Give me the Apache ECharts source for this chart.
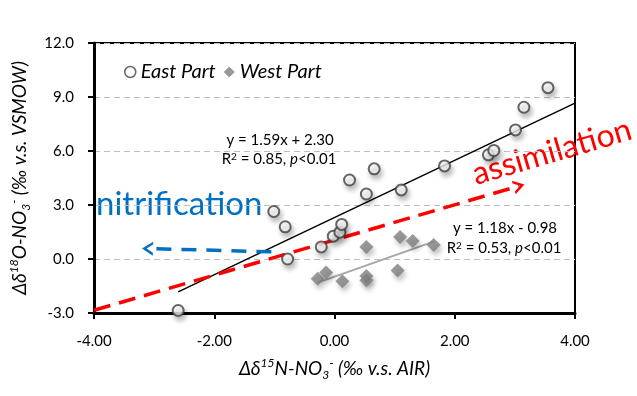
<!DOCTYPE html>
<html>
<head>
<meta charset="utf-8">
<script src="https://cdn.jsdelivr.net/npm/echarts@6/dist/echarts.min.js"></script>
<style>
  html, body { margin: 0; padding: 0; background: #fff; }
  #chart { width: 637px; height: 396px; }
</style>
</head>
<body>
<div id="chart"></div>
<script>
// 数据
var eastPart = [
  [-2.60, -2.86], [-1.01, 2.64], [-0.82, 1.79], [-0.78, 0.00], [-0.22, 0.67],
  [-0.02, 1.27], [0.09, 1.49], [0.12, 1.92], [0.25, 4.39], [0.53, 3.61],
  [0.66, 5.01], [1.11, 3.84], [1.83, 5.17], [2.56, 5.79], [2.65, 6.03],
  [3.01, 7.17], [3.15, 8.43], [3.55, 9.52]
];
var westPart = [
  [-0.28, -1.10], [-0.14, -0.75], [0.13, -1.24], [0.53, -0.95], [0.53, -1.18],
  [0.53, 0.66], [1.05, -0.64], [1.09, 1.22], [1.30, 1.00], [1.65, 0.78]
];
var eastFit = [[-2.60, -1.83], [4.00, 8.66]];
var westFit = [[-0.28, -1.31], [1.66, 0.98]];
var redArrow = [[-4.00, -2.85], [3.07, 4.06]];
var blueArrow = [[-1.05, 0.40], [-3.11, 0.58]];
var xTicks = [-4, -2, 0, 2, 4];
var yTicks = [-3, 0, 3, 6, 9, 12];

var font = 'Lato, "Open Sans", sans-serif';
var chevron = 'path://M0,12 L6,0 L12,12 L9.5,12 L6,5 L2.5,12 Z';

var chart = echarts.init(document.getElementById('chart'));

function arrowSeries(pts, color, dash) {
  return {
    type: 'line',
    data: [],
    silent: true,
    markLine: {
      silent: true,
      animation: false,
      symbol: ['none', chevron],
      symbolSize: [14, 11],
      label: { show: false },
      lineStyle: { color: color, width: 3.5, type: dash, opacity: 1 },
      data: [[{ coord: pts[0] }, { coord: pts[1] }]]
    }
  };
}

var titleRich = {
  i: { fontFamily: font, fontStyle: 'italic', fontSize: 19, color: '#000', lineHeight: 24 },
  sup: { fontFamily: font, fontStyle: 'italic', fontSize: 12, color: '#000', verticalAlign: 'top', lineHeight: 24 },
  sub: { fontFamily: font, fontStyle: 'italic', fontSize: 12, color: '#000', verticalAlign: 'bottom', lineHeight: 19 }
};

var eqRich = {
  n: { fill: '#000', font: '15px ' + font },
  s: { fill: '#000', font: '10px ' + font, verticalAlign: 'top' },
  p: { fill: '#000', font: 'italic 15px ' + font }
};

var option = {
  animation: false,
  grid: {
    left: 90, right: 62, top: 43, bottom: 83,
    show: true, borderColor: '#000', borderWidth: 2, backgroundColor: '#fff'
  },
  legend: {
    left: 119, top: 57,
    itemGap: 8, itemWidth: 11, itemHeight: 11,
    textStyle: { fontFamily: font, fontStyle: 'italic', fontSize: 20, color: '#000' },
    data: [
      { name: 'East Part', itemStyle: { borderWidth: 1.5, shadowBlur: 0, shadowOffsetX: 0, shadowOffsetY: 0 } },
      { name: 'West Part', itemStyle: { shadowBlur: 0, shadowOffsetX: 0, shadowOffsetY: 0 } }
    ]
  },
  xAxis: {
    type: 'value', min: xTicks[0], max: xTicks[xTicks.length - 1], interval: 2,
    axisLine: { onZero: false, lineStyle: { color: '#000', width: 3 } },
    axisTick: { show: true, length: 6, lineStyle: { color: '#000', width: 2 } },
    splitLine: { show: false },
    axisLabel: { fontFamily: font, fontSize: 15, color: '#000', margin: 21,
      formatter: function (v) { return v.toFixed(2); } },
    name: '{i|Δδ}{sup|15}{i|N-NO}{sub|3}{sup|-}{i| (‰ v.s. AIR)}',
    nameLocation: 'middle', nameGap: 44,
    nameTextStyle: { rich: titleRich }
  },
  yAxis: {
    type: 'value', min: yTicks[0], max: yTicks[yTicks.length - 1], interval: 3,
    axisLine: { onZero: false, lineStyle: { color: '#000', width: 3 } },
    axisTick: { show: true, length: 6, lineStyle: { color: '#000', width: 2 } },
    splitLine: { show: true, lineStyle: { color: '#bfbfbf', type: [6, 4], width: 1 } },
    axisLabel: { fontFamily: font, fontSize: 15, color: '#000', margin: 20,
      formatter: function (v) { return v.toFixed(1); } },
    name: '{i|Δδ}{sup|18}{i|O-NO}{sub|3}{sup|-}{i| (‰ v.s. VSMOW)}',
    nameLocation: 'middle', nameGap: 62, nameRotate: 90,
    nameTextStyle: { rich: titleRich }
  },
  graphic: [
    { type: 'text', left: 96, top: 188, silent: true,
      style: { text: 'nitrification', fill: '#0070c0', font: '33px ' + font } },
    { type: 'text', x: 552, y: 152, rotation: 16.3 * Math.PI / 180, silent: true,
      style: { text: 'assimilation', fill: '#ff0000', font: '32px ' + font, align: 'center', verticalAlign: 'middle' } },
    { type: 'text', x: 280, y: 140, silent: true,
      style: { text: 'y = 1.59x + 2.30', fill: '#000', font: '15px ' + font, align: 'center', verticalAlign: 'middle' } },
    { type: 'text', x: 279, y: 159, silent: true,
      style: { text: '{n|R}{s|2}{n| = 0.85, }{p|p}{n|<0.01}', align: 'center', verticalAlign: 'middle', rich: eqRich } },
    { type: 'text', x: 505, y: 228, silent: true,
      style: { text: 'y = 1.18x - 0.98', fill: '#000', font: '15px ' + font, align: 'center', verticalAlign: 'middle' } },
    { type: 'text', x: 504, y: 248, silent: true,
      style: { text: '{n|R}{s|2}{n| = 0.53, }{p|p}{n|<0.01}', align: 'center', verticalAlign: 'middle', rich: eqRich } }
  ],
  series: [
    {
      name: 'East fit', type: 'line', data: eastFit, symbol: 'none', silent: true,
      lineStyle: { color: '#000', width: 1.5 }, z: 3
    },
    {
      name: 'West fit', type: 'line', data: westFit, symbol: 'none', silent: true,
      lineStyle: { color: '#a6a6a6', width: 2 }, z: 3
    },
    arrowSeries(redArrow, '#ff0000', [17, 9]),
    arrowSeries(blueArrow, '#0070c0', [15, 10]),
    {
      name: 'West Part', type: 'scatter', data: westPart, symbol: 'diamond', symbolSize: 14, z: 4,
      itemStyle: { color: '#808080', shadowBlur: 5, shadowColor: 'rgba(0,0,0,0.3)', shadowOffsetX: 2, shadowOffsetY: 4 }
    },
    {
      name: 'East Part', type: 'scatter', data: eastPart, symbol: 'circle', symbolSize: 11, z: 5,
      itemStyle: { color: '#fff', borderColor: '#404040', borderWidth: 2,
        shadowBlur: 5, shadowColor: 'rgba(0,0,0,0.3)', shadowOffsetX: 2, shadowOffsetY: 4 }
    }
  ]
};
chart.setOption(option);
</script>
</body>
</html>
